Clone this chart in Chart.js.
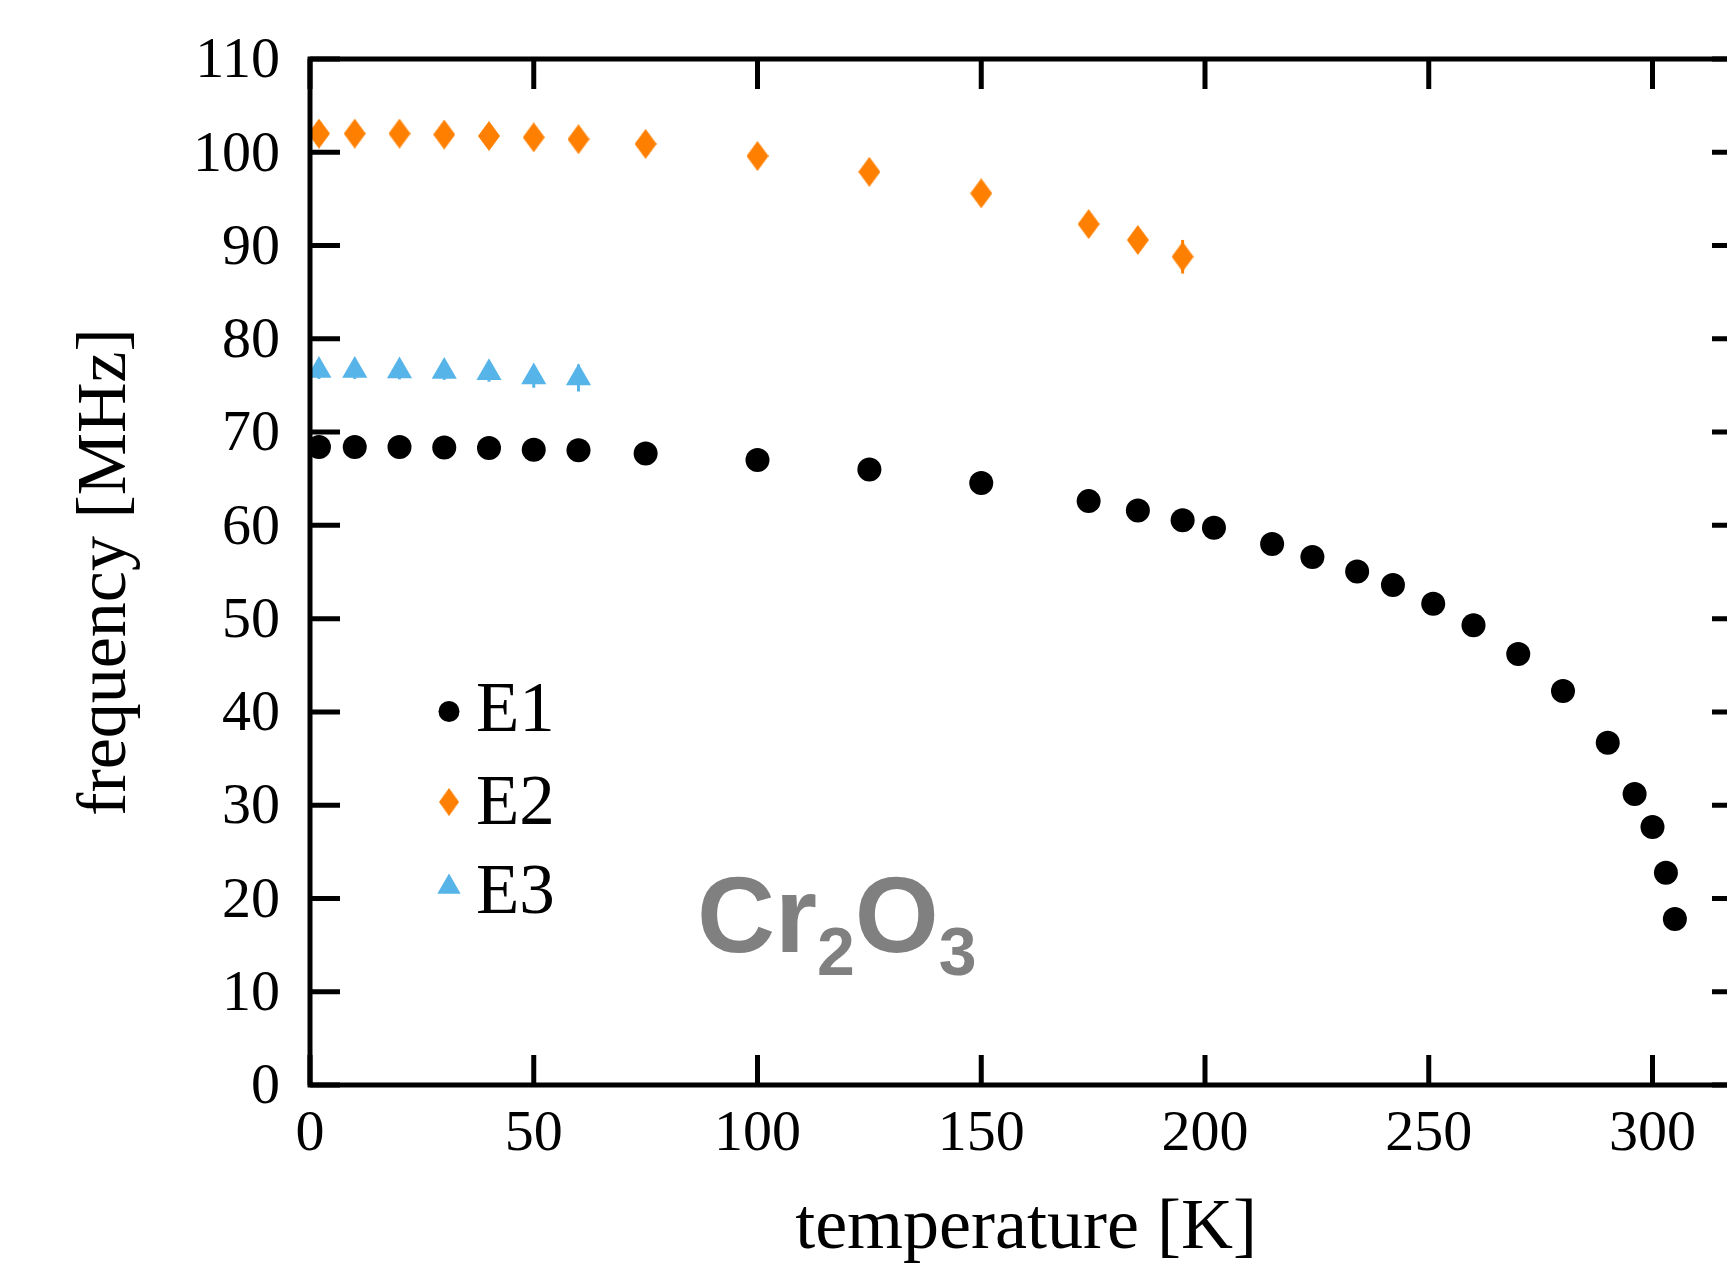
<!DOCTYPE html>
<html>
<head>
<meta charset="utf-8">
<script src="https://cdn.jsdelivr.net/npm/chart.js@4.4.1/dist/chart.umd.min.js"></script>
<style>
  html, body { margin: 0; padding: 0; background: #fff; overflow: hidden; }
  canvas { display: block; }
</style>
</head>
<body>
<canvas id="freqChart" width="1800" height="1265"></canvas>
<script>
// E1 / E2 / E3 frequencies vs temperature
const e1Temp = [2, 10, 20, 30, 40, 50, 60, 75, 100, 125, 150, 174, 185, 195, 202, 215, 224, 234, 242, 251, 260, 270, 280, 290, 296, 300, 303, 305];
const e1Freq = [68.4, 68.4, 68.4, 68.35, 68.3, 68.1, 68.05, 67.7, 67.0, 66.0, 64.55, 62.6, 61.6, 60.55, 59.75, 58.0, 56.6, 55.05, 53.6, 51.6, 49.3, 46.2, 42.25, 36.7, 31.2, 27.65, 22.75, 17.8];

const e2Temp = [2, 10, 20, 30, 40, 50, 60, 75, 100, 125, 150, 174, 185, 195];
const e2Freq = [102.0, 102.0, 102.0, 101.9, 101.75, 101.6, 101.4, 100.9, 99.6, 97.9, 95.6, 92.3, 90.6, 88.8];
const e2Err = [0.4, 0.4, 0.4, 0.4, 0.4, 0.4, 0.5, 0.5, 0.6, 0.6, 0.7, 0.8, 0.9, 1.8];

const e3Temp = [2, 10, 20, 30, 40, 50, 60];
const e3Freq = [76.6, 76.6, 76.55, 76.5, 76.35, 75.9, 75.8];
const e3Err = [0.9, 0.9, 0.9, 0.9, 0.95, 1.15, 1.45];

const xTicks = [0, 50, 100, 150, 200, 250, 300];
const yTicks = [0, 10, 20, 30, 40, 50, 60, 70, 80, 90, 100, 110];

const black = "#000000";
const orange = "#ff8000";
const blue = "#56b4e9";
const serif = "'Liberation Serif', 'Times New Roman', serif";

function makeDiamond(w, h, color) {
  const c = document.createElement("canvas");
  c.width = w;
  c.height = h;
  const g = c.getContext("2d");
  g.fillStyle = color;
  g.beginPath();
  g.moveTo(w / 2, 0);
  g.lineTo(w, h / 2);
  g.lineTo(w / 2, h);
  g.lineTo(0, h / 2);
  g.closePath();
  g.fill();
  return c;
}
const diamond = makeDiamond(22, 30, orange);

function points(xs, ys) {
  return xs.map((x, i) => ({ x: x, y: ys[i] }));
}

// error bars, inward ticks, frame, legend and the Cr2O3 label
const framePlugin = {
  id: "frame",
  beforeDatasetsDraw(chart) {
    const { ctx, scales: { x, y } } = chart;
    const bars = [[e2Temp, e2Freq, e2Err, orange], [e3Temp, e3Freq, e3Err, blue]];
    ctx.save();
    ctx.lineWidth = 3;
    bars.forEach(([ts, fs, es, col]) => {
      ctx.strokeStyle = col;
      ts.forEach((t, i) => {
        const px = x.getPixelForValue(t);
        ctx.beginPath();
        ctx.moveTo(px, y.getPixelForValue(fs[i] - es[i]));
        ctx.lineTo(px, y.getPixelForValue(fs[i] + es[i]));
        ctx.stroke();
      });
    });
    ctx.restore();
  },
  afterDatasetsDraw(chart) {
    const { ctx, chartArea: a, scales: { x, y } } = chart;
    const tick = 30;
    ctx.save();
    ctx.strokeStyle = black;
    ctx.lineWidth = 5;
    ctx.beginPath();
    yTicks.forEach(v => {
      const py = y.getPixelForValue(v);
      ctx.moveTo(a.left, py); ctx.lineTo(a.left + tick, py);
      ctx.moveTo(a.right, py); ctx.lineTo(a.right - tick, py);
    });
    xTicks.forEach(v => {
      const px = x.getPixelForValue(v);
      ctx.moveTo(px, a.bottom); ctx.lineTo(px, a.bottom - tick);
      ctx.moveTo(px, a.top); ctx.lineTo(px, a.top + tick);
    });
    ctx.stroke();
    ctx.strokeRect(a.left, a.top, a.right - a.left, a.bottom - a.top);

    // legend
    const mx = a.left + 139;
    const rows = [652.5, 743, 828];
    const base = [672, 765, 854];
    chart.data.datasets.forEach((ds, i) => {
      const my = a.top + rows[i];
      ctx.fillStyle = ds.backgroundColor;
      if (ds.pointStyle === "circle") {
        ctx.beginPath();
        ctx.arc(mx, my, 10.5, 0, Math.PI * 2);
        ctx.fill();
      } else if (ds.pointStyle === "triangle") {
        const r = 13.5;
        ctx.beginPath();
        ctx.moveTo(mx, my - r);
        ctx.lineTo(mx + r * Math.sin(Math.PI / 3), my + r / 2);
        ctx.lineTo(mx - r * Math.sin(Math.PI / 3), my + r / 2);
        ctx.closePath();
        ctx.fill();
      } else {
        ctx.drawImage(ds.pointStyle, mx - 10, my - 14, 20, 28);
      }
      ctx.fillStyle = black;
      ctx.font = "71px " + serif;
      ctx.textBaseline = "alphabetic";
      ctx.textAlign = "left";
      ctx.fillText(ds.label, a.left + 166, a.top + base[i]);
    });

    // compound label
    const lx = a.left + 387;
    const ly = a.top + 893;
    const big = "bold 108px 'Liberation Sans', Arial, sans-serif";
    const small = "bold 68px 'Liberation Sans', Arial, sans-serif";
    ctx.fillStyle = "#808080";
    let cx = lx;
    [["Cr", big, 0], ["2", small, 23], ["O", big, 0], ["3", small, 23]].forEach(([s, f, dy]) => {
      ctx.font = f;
      ctx.fillText(s, cx, ly + dy);
      cx += ctx.measureText(s).width;
    });
    ctx.restore();
  }
};

const ctx = document.getElementById("freqChart").getContext("2d");
const freqChart = new Chart(ctx, {
  type: "scatter",
  data: {
    datasets: [
      {
        label: "E1",
        data: points(e1Temp, e1Freq),
        pointStyle: "circle",
        pointRadius: 12,
        backgroundColor: black,
        borderWidth: 0
      },
      {
        label: "E2",
        data: points(e2Temp, e2Freq),
        pointStyle: diamond,
        pointRadius: 11,
        backgroundColor: orange,
        borderWidth: 0
      },
      {
        label: "E3",
        data: points(e3Temp, e3Freq),
        pointStyle: "triangle",
        pointRadius: 14.5,
        backgroundColor: blue,
        borderWidth: 0
      }
    ]
  },
  options: {
    responsive: false,
    animation: false,
    events: [],
    layout: { padding: { top: 59, right: 58, left: 0, bottom: 0 } },
    plugins: { legend: { display: false }, tooltip: { enabled: false } },
    scales: {
      x: {
        type: "linear",
        min: 0,
        max: 320,
        afterBuildTicks: s => { s.ticks = xTicks.map(v => ({ value: v })); },
        afterFit: s => { s.height = 180; },
        grid: { display: false, drawTicks: false },
        border: { display: false },
        ticks: { color: black, padding: 15, maxRotation: 0, font: { family: serif, size: 58 } },
        title: {
          display: true,
          text: "temperature [K]",
          color: black,
          padding: { top: 0, bottom: 0 },
          font: { family: serif, size: 72, lineHeight: 1 }
        }
      },
      y: {
        min: 0,
        max: 110,
        afterBuildTicks: s => { s.ticks = yTicks.map(v => ({ value: v })); },
        afterFit: s => {
          s.width = 310;
          s.paddingTop = 0;
          s.paddingBottom = 0;
        },
        grid: { display: false, drawTicks: false },
        border: { display: false },
        ticks: { color: black, padding: 30, labelOffset: 3, font: { family: serif, size: 58 } },
        title: {
          display: true,
          text: "frequency [MHz]",
          color: black,
          padding: { top: 72, bottom: 0 },
          font: { family: serif, size: 70, lineHeight: 1 }
        }
      }
    }
  },
  plugins: [framePlugin]
});
</script>
</body>
</html>
